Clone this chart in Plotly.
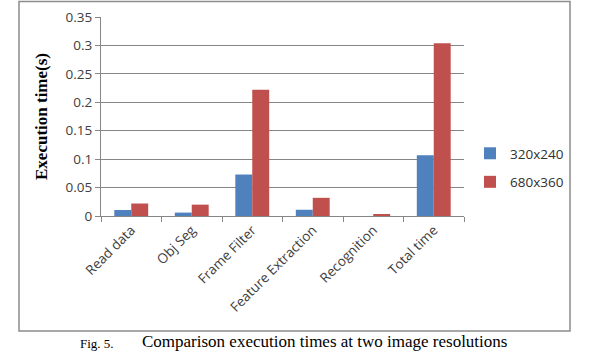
import plotly.graph_objects as go

categories = ["Read data", "Obj Seg", "Frame Filter", "Feature Extraction", "Recognition", "Total time"]
series_names = ["320x240", "680x360"]
vals_320 = [0.0105, 0.006, 0.073, 0.011, 0.0, 0.107]
vals_680 = [0.022, 0.020, 0.222, 0.032, 0.002, 0.304]
y_ticks = [0, 0.05, 0.1, 0.15, 0.2, 0.25, 0.3, 0.35]
y_ticklabels = ["0", "0.05", "0.1", "0.15", "0.2", "0.25", "0.3", "0.35"]

W, H = 600, 359
L, R, T, B = 101, 464, 17, 216
pw, ph = R - L, B - T

def px(x):
    return (x - L) / pw

def py(y):
    return (B - y) / ph

fig = go.Figure()
fig.add_trace(go.Bar(x=categories, y=vals_320, name=series_names[0], marker_color="#4F81BD",
                     marker_line_width=0, legendgroup="a"))
fig.add_trace(go.Bar(x=categories, y=vals_680, name=series_names[1], marker_color="#C0504D",
                     marker_line_width=0, legendgroup="b"))

fig.update_layout(
    width=W, height=H,
    margin=dict(l=L, r=W - R, t=T, b=H - B, autoexpand=False),
    paper_bgcolor="white", plot_bgcolor="white",
    barmode="group", bargap=0.44, bargroupgap=0,
    font=dict(family="Open Sans", size=13, color="#404040"),
    showlegend=True,
    legend=dict(x=px(470), y=py(138), xanchor="left", yanchor="top",
                font=dict(family="Open Sans", size=13.5, color="#303030"),
                itemwidth=30, tracegroupgap=8, bgcolor="rgba(0,0,0,0)"),
    xaxis=dict(tickangle=-45, ticks="outside", tickson="boundaries", ticklen=5,
               tickcolor="#868686", showline=True, linecolor="#868686", linewidth=1,
               tickfont=dict(family="Open Sans", size=13.5, color="#404040"),
               showgrid=False),
    yaxis=dict(range=[0, 0.3502], tickvals=y_ticks, ticktext=y_ticklabels,
               ticks="outside", ticklen=5, tickcolor="#868686",
               showline=True, linecolor="#868686", linewidth=1,
               showgrid=True, gridcolor="#868686", gridwidth=1,
               tickfont=dict(family="Open Sans", size=13.5, color="#404040"),
               zeroline=False),
    shapes=[dict(type="rect", xref="paper", yref="paper",
                 x0=px(19), x1=px(570), y0=py(331), y1=py(1.5),
                 line=dict(color="#8c8c8c", width=1.5), fillcolor="rgba(0,0,0,0)", layer="below")],
    annotations=[
        dict(text="<b>Execution time(s)</b>", xref="paper", yref="paper", x=px(42), y=py(117),
             textangle=-90, showarrow=False, xanchor="center", yanchor="middle",
             font=dict(family="Liberation Serif", size=17, color="black")),
        dict(text="Fig. 5.", xref="paper", yref="paper", x=px(78), y=py(343),
             showarrow=False, xanchor="left", yanchor="middle",
             font=dict(family="Liberation Serif", size=13, color="black")),
        dict(text="Comparison execution times at two image resolutions", xref="paper", yref="paper",
             x=px(140), y=py(342), showarrow=False, xanchor="left", yanchor="middle",
             font=dict(family="Liberation Serif", size=17, color="black")),
    ],
)

fig.write_html("out.html", config={"displayModeBar": False},
               post_script="document.body.style.margin='0';document.body.style.overflow='hidden';")
